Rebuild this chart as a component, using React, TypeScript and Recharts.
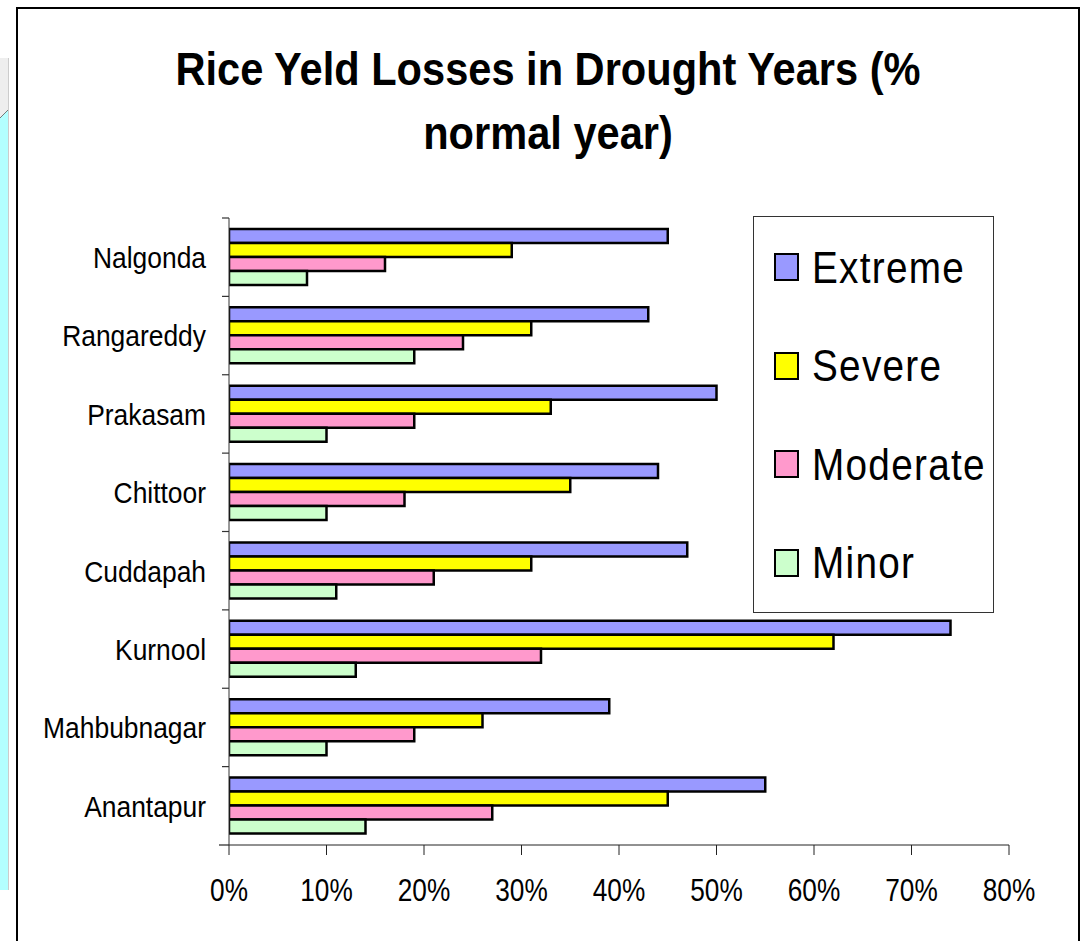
import React from "react";
import {Bar, BarChart, XAxis, YAxis} from "recharts";

const DISTRICTS = ['Nalgonda', 'Rangareddy', 'Prakasam', 'Chittoor', 'Cuddapah', 'Kurnool', 'Mahbubnagar', 'Anantapur'];
const EXTREME = [45, 43, 50, 44, 47, 74, 39, 55];
const SEVERE = [29, 31, 33, 35, 31, 62, 26, 45];
const MODERATE = [16, 24, 19, 18, 21, 32, 19, 27];
const MINOR = [8, 19, 10, 10, 11, 13, 10, 14];
const X_TICKS = [0, 10, 20, 30, 40, 50, 60, 70, 80];

const SERIES = [
    {key: 'Extreme', color: '#9999ff'},
    {key: 'Severe', color: '#ffff00'},
    {key: 'Moderate', color: '#ff99cc'},
    {key: 'Minor', color: '#ccffcc'},
];

// no narrow face available, so regular Liberation Sans gets squeezed horizontally
const FONT = '"Liberation Sans", Arial, sans-serif';

const PLOT_TOP = 218;
const PLOT_BOTTOM = 845;
const PLOT_LEFT = 229;
const PLOT_RIGHT = 1009;
const BAND = (PLOT_BOTTOM - PLOT_TOP) / DISTRICTS.length;

const data = DISTRICTS.map((name, i) => ({
    name,
    Extreme: EXTREME[i],
    Severe: SEVERE[i],
    Moderate: MODERATE[i],
    Minor: MINOR[i],
}));

// category label plus tick marks on the band boundaries
function DistrictTick({y, payload, index}: any) {
    const top = y - BAND / 2;
    const last = index === DISTRICTS.length - 1;
    return (
        <g>
            <line x1={PLOT_LEFT - 7} x2={PLOT_LEFT} y1={top} y2={top} stroke="#333" strokeWidth={1.2}/>
            {last && <line x1={PLOT_LEFT - 10} x2={PLOT_LEFT} y1={y + BAND / 2} y2={y + BAND / 2} stroke="#222"
                           strokeWidth={1.2}/>}
            <text transform={`translate(206 ${y}) scale(0.88 1)`} dy="0.36em" textAnchor="end" fill="#000"
                  fontSize={30} fontFamily={FONT}>
                {payload.value}
            </text>
        </g>
    );
}

function PercentTick({x, payload}: any) {
    return (
        <text transform={`translate(${x} ${PLOT_BOTTOM + 56}) scale(0.82 1)`} textAnchor="middle" fill="#000"
              fontSize={32} fontFamily={FONT}>
            {`${payload.value}%`}
        </text>
    );
}

function LegendBox() {
    return (
        <div style={{
            position: 'absolute', left: 753, top: 216, width: 241, height: 397,
            border: '1.5px solid #333', boxSizing: 'border-box', background: '#fff', paddingTop: 1, paddingLeft: 20,
        }}>
            {SERIES.map(s => (
                <div key={s.key} style={{display: 'flex', alignItems: 'center', height: 98.5}}>
                    <span style={{
                        display: 'inline-block', flexShrink: 0, width: 21, height: 24, background: s.color,
                        border: '2px solid #000', marginRight: 13,
                    }}/>
                    <span style={{
                        display: 'inline-block', fontFamily: FONT, fontSize: 45, letterSpacing: 1.5, color: '#000',
                        lineHeight: 1, transform: 'scaleX(0.86)', transformOrigin: 'left center', whiteSpace: 'nowrap',
                    }}>
                        {s.key}
                    </span>
                </div>
            ))}
        </div>
    );
}

export default function App() {
    return (
        <div style={{position: 'absolute', left: 0, top: 0, width: 1085, height: 941, background: '#fff', overflow: 'hidden'}}>
            {/* neighbouring slide panel peeking in at the left */}
            <div style={{position: 'absolute', left: 0, top: 58, width: 8, height: 832, background: '#b3ffff', borderRight: '1px solid #ccc'}}/>
            <svg style={{position: 'absolute', left: 0, top: 58}} width={9} height={62}>
                <polygon points="0,0 8,0 8,52 0,60" fill="#eeeeee"/>
                <line x1={0} y1={60} x2={8} y2={52} stroke="#777" strokeWidth={1}/>
            </svg>
            <div style={{
                position: 'absolute', left: 16, top: 7, width: 1064, height: 960,
                border: '2px solid #000', boxSizing: 'border-box',
            }}/>
            <div style={{
                position: 'absolute', left: 16, top: 37, width: 1064, textAlign: 'center',
                fontFamily: FONT, fontWeight: 'bold', fontSize: 47, lineHeight: '64px', color: '#000',
                transform: 'scaleX(0.885)', transformOrigin: '532px 0',
            }}>
                Rice Yeld Losses in Drought Years (%<br/>normal year)
            </div>
            <div style={{position: 'absolute', left: 0, top: 0}}>
                <BarChart
                    width={1085}
                    height={941}
                    data={data}
                    layout="vertical"
                    margin={{top: PLOT_TOP, right: 1085 - PLOT_RIGHT, bottom: 941 - PLOT_BOTTOM - 60, left: 0}}
                    barCategoryGap="14%"
                    barGap={0}
                >
                    <XAxis
                        type="number"
                        domain={[0, 80]}
                        ticks={X_TICKS}
                        interval={0}
                        height={60}
                        tickSize={10}
                        stroke="#222"
                        tick={<PercentTick/>}
                        allowDataOverflow
                    />
                    <YAxis
                        type="category"
                        dataKey="name"
                        width={PLOT_LEFT}
                        tickLine={false}
                        stroke="#333"
                        tick={<DistrictTick/>}
                        interval={0}
                    />
                    {SERIES.map(s => (
                        <Bar key={s.key} dataKey={s.key} fill={s.color} stroke="#000" strokeWidth={2.5}
                             isAnimationActive={false}/>
                    ))}
                </BarChart>
            </div>
            <LegendBox/>
        </div>
    );
}
